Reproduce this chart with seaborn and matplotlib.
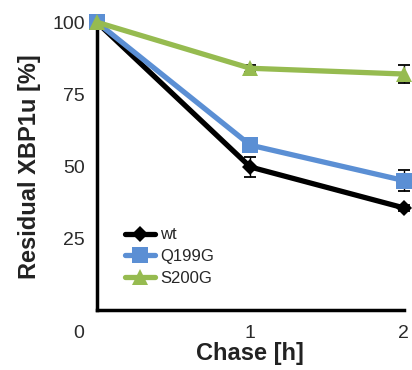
import matplotlib
matplotlib.use("Agg")
import matplotlib.pyplot as plt
import matplotlib.transforms as mtransforms
import pandas as pd
import seaborn as sns

chase = [0, 1, 2]
wt = [100, 49.7, 35.5]
wt_err = [0, 3.5, 1]
q199g = [100, 57.3, 45]
q199g_err = [0, 1.5, 3.5]
s200g = [100, 84, 82]
s200g_err = [0, 1.2, 3]

labels = ["wt", "Q199G", "S200G"]
colors = ["#000000", "#5b8fd4", "#96bb50"]
markers = ["D", "s", "^"]
msizes = [8, 11, 11]


def main():
    sns.set_style("white")
    plt.rcParams["font.family"] = ["Liberation Sans", "DejaVu Sans"]

    data = pd.DataFrame({
        "chase": chase * 3,
        "value": wt + q199g + s200g,
        "err": wt_err + q199g_err + s200g_err,
        "strain": [l for l in labels for _ in chase],
    })

    fig = plt.figure(figsize=(4.12, 3.7), dpi=100)
    ax = fig.add_axes([0.235, 0.162, 0.745, 0.778])

    for label, color, marker, ms in zip(labels, colors, markers, msizes):
        sub = data[data["strain"] == label]
        ax.errorbar(sub["chase"], sub["value"], yerr=sub["err"], fmt="none",
                    ecolor="black", elinewidth=1, capsize=4, capthick=1.3,
                    zorder=2, clip_on=False)
        sns.lineplot(sub, x="chase", y="value", ax=ax, color=color,
                     marker=marker, markersize=ms, markeredgewidth=0,
                     linewidth=3.8, label=label, clip_on=False, zorder=3)

    ax.set_xlim(0, 2)
    ax.set_ylim(0, 100)
    ax.set_yticks([25, 50, 75, 100])
    ax.set_xticks([0, 1, 2])
    ax.set_xticklabels(["0", "1", "2"])
    ax.tick_params(axis="both", direction="out", length=5, width=2,
                   labelsize=14, colors="black", labelcolor="#2a2a2a")
    ax.tick_params(axis="x", pad=6)
    offset = mtransforms.ScaledTranslation(-0.18, 0, fig.dpi_scale_trans)
    lab0 = ax.get_xticklabels()[0]
    lab0.set_transform(lab0.get_transform() + offset)

    sns.despine(ax=ax)
    for side in ["left", "bottom"]:
        ax.spines[side].set_linewidth(2.5)
        ax.spines[side].set_color("black")

    ax.set_xlabel("Chase [h]", fontsize=17, fontweight="bold", color="#222222", labelpad=0)
    ax.set_ylabel("Residual XBP1u [%]", fontsize=17, fontweight="bold", color="#222222", labelpad=8)

    ax.legend(loc="upper left", bbox_to_anchor=(0.07, 0.31), frameon=False,
              fontsize=12, handlelength=1.8, handletextpad=0.3,
              labelspacing=0.4, borderaxespad=0)

    plt.savefig("out.png", dpi=100)


if __name__ == "__main__":
    main()
